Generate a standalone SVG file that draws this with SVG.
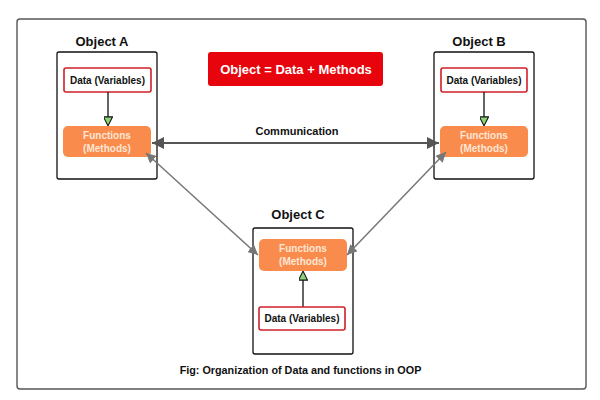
<svg xmlns="http://www.w3.org/2000/svg" width="600" height="400" viewBox="0 0 600 400">
<defs>
<style>
text{font-family:"Liberation Sans",Arial,sans-serif;font-weight:bold;text-anchor:middle}
.obj{fill:#fff;stroke:#111;stroke-width:1.3}
.title{font-size:13px;fill:#111}
.data{fill:#fff;stroke:#d0202a;stroke-width:1.6}
.dtext{font-size:10px;fill:#111}
.func{fill:#f98c4c;stroke:none}
.ftext{font-size:10px;fill:#fde6d6}
.inner{stroke:#111;stroke-width:1.3;fill:none}
.comm{stroke:#555;stroke-width:2;fill:none}
.diag{stroke:#777;stroke-width:1.5;fill:none}
</style>
<marker id="tri" viewBox="0 0 10 10" refX="9" refY="5" markerWidth="10" markerHeight="9" markerUnits="userSpaceOnUse" orient="auto">
<path d="M0,0 L10,5 L0,10 Z" fill="#8fd07a" stroke="#111" stroke-width="1.2"/>
</marker>
<marker id="ah" viewBox="0 0 10 10" refX="10" refY="5" markerWidth="12" markerHeight="12" markerUnits="userSpaceOnUse" orient="auto-start-reverse">
<path d="M0,0 L10,5 L0,10 Z" fill="#555"/>
</marker>
<marker id="ah2" viewBox="0 0 10 10" refX="10" refY="5" markerWidth="10" markerHeight="10" markerUnits="userSpaceOnUse" orient="auto-start-reverse">
<path d="M0,0 L10,5 L0,10 Z" fill="#777"/>
</marker>
</defs>
<rect width="600" height="400" fill="#fff"/>
<rect x="17" y="19" width="569" height="370" rx="3" fill="none" stroke="#555" stroke-width="1.4"/>

<g id="legend">
<rect x="208" y="52" width="175" height="34" rx="3" fill="#e8040c"/>
<text x="296" y="74" style="font-size:13px;fill:#fff">Object = Data + Methods</text>
</g>

<g id="objectA">
<text class="title" x="102" y="46">Object A</text>
<rect class="obj" x="57" y="52" width="100" height="127" rx="2"/>
<rect class="data" x="64" y="68" width="87" height="24" rx="2"/>
<text class="dtext" x="107.5" y="84">Data (Variables)</text>
<line class="inner" x1="108" y1="92" x2="108" y2="125" marker-end="url(#tri)"/>
<rect class="func" x="63" y="126" width="88" height="31" rx="5"/>
<text class="ftext" x="107" y="139">Functions</text>
<text class="ftext" x="107" y="152">(Methods)</text>
</g>

<g id="objectB">
<text class="title" x="479" y="46">Object B</text>
<rect class="obj" x="434" y="52" width="100" height="127" rx="2"/>
<rect class="data" x="441" y="68" width="86" height="24" rx="2"/>
<text class="dtext" x="484" y="84">Data (Variables)</text>
<line class="inner" x1="484" y1="92" x2="484" y2="125" marker-end="url(#tri)"/>
<rect class="func" x="440" y="126" width="88" height="31" rx="5"/>
<text class="ftext" x="484" y="139">Functions</text>
<text class="ftext" x="484" y="152">(Methods)</text>
</g>

<g id="objectC">
<text class="title" x="298" y="219">Object C</text>
<rect class="obj" x="253" y="228" width="100" height="126" rx="2"/>
<rect class="func" x="259" y="239" width="88" height="32" rx="5"/>
<text class="ftext" x="303" y="252">Functions</text>
<text class="ftext" x="303" y="265">(Methods)</text>
<line class="inner" x1="303" y1="307" x2="303" y2="272" marker-end="url(#tri)"/>
<rect class="data" x="259" y="307" width="86" height="23" rx="2"/>
<text class="dtext" x="302" y="322">Data (Variables)</text>
</g>

<g id="connectors">
<line class="comm" x1="152" y1="143" x2="439" y2="143" marker-start="url(#ah)" marker-end="url(#ah)"/>
<text x="297" y="135" style="font-size:11px;fill:#111">Communication</text>
<line class="diag" x1="146" y1="153" x2="258" y2="255" marker-start="url(#ah2)" marker-end="url(#ah2)"/>
<line class="diag" x1="446" y1="152" x2="347" y2="255" marker-start="url(#ah2)" marker-end="url(#ah2)"/>
</g>

<text x="300.5" y="374" style="font-size:10.8px;fill:#111">Fig: Organization of Data and functions in OOP</text>
</svg>
